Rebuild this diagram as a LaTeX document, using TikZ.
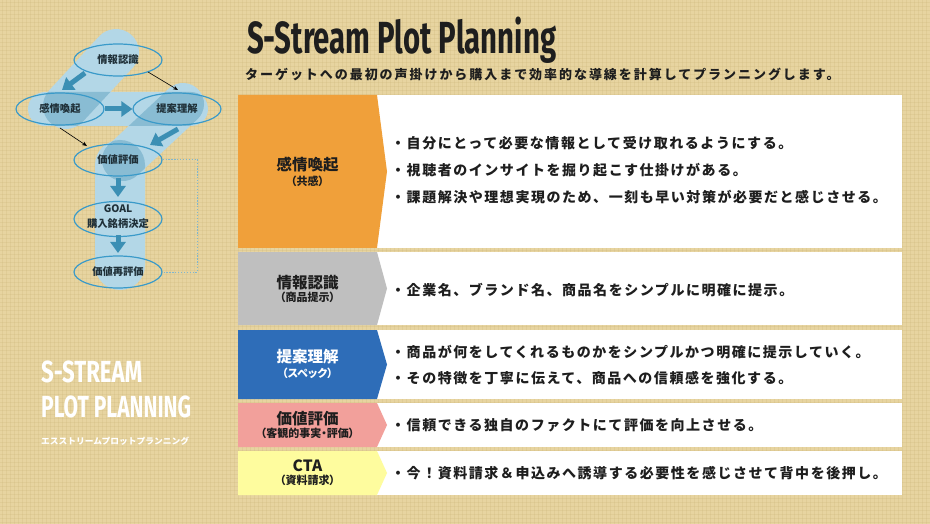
\documentclass[tikz,border=0pt]{standalone}
\usepackage{fontspec}
\usepackage{graphicx}
\usetikzlibrary{arrows.meta,calc,shapes.geometric}
\setmainfont{Noto Sans CJK JP}
\newfontfamily\jp{Noto Sans CJK JP}
\newfontfamily\jpbody{Noto Sans CJK JP}[LetterSpace=11]
\newfontfamily\jpsub{Noto Sans CJK JP}[LetterSpace=15]
\newfontfamily\jppalt{Noto Sans CJK JP}[RawFeature=+palt]
\newfontfamily\cond{Fira Sans}
\definecolor{bg}{HTML}{E7D4A0}
\definecolor{bgline}{HTML}{C9B173}
\definecolor{bandL}{HTML}{B3D7E7}
\definecolor{bandD}{HTML}{89BCD3}
\definecolor{ellc}{HTML}{3A9AC9}
\definecolor{arrc}{HTML}{3B8FB4}
\definecolor{dotc}{HTML}{7FB6CE}
\definecolor{txt}{HTML}{1E1E1E}
\definecolor{dtxt}{HTML}{1F3038}
\definecolor{corange}{HTML}{F0A03A}
\definecolor{cgray}{HTML}{BFBFBF}
\definecolor{cblue}{HTML}{2E6DB8}
\definecolor{cpink}{HTML}{F2A09B}
\definecolor{cyellow}{HTML}{FEFC9E}
\newcommand\bandA[1]{\path[#1,shift={(91,79)},rotate=47.2,rounded corners=23pt] (-59.8,-23) rectangle (59.8,23);}
\newcommand\bandB[1]{\path[#1,shift={(118,109)},rounded corners=17pt] (-90,-17) rectangle (90,17);}
\newcommand\bandC[1]{\path[#1,shift={(153,132)},rotate=43,rounded corners=21pt] (-62.05,-21) rectangle (62.05,21);}
\newcommand\bandD[1]{\path[#1,shift={(120,215)},rotate=90,rounded corners=25pt] (-75,-25) rectangle (75,25);}
\newcommand\chev[3]{%
  \fill[white] (377,#1) rectangle (902,#2);
  \fill[#3] (238,#1) -- (377,#1) -- (387,{(#1+#2)/2}) -- (377,#2) -- (238,#2) -- cycle;}
\begin{document}
\begin{tikzpicture}[x=1pt,y=-1pt,
  lab/.style={inner sep=0, text=txt, font=\jp\bfseries\fontsize{15.5}{17}\selectfont},
  sublab/.style={inner sep=0, text=txt, font=\jppalt\bfseries\fontsize{11}{13}\selectfont},
  body/.style={anchor=west, inner sep=0, text=txt, font=\jpbody\bfseries\fontsize{14}{16}\selectfont},
  ell/.style={ellipse, draw=ellc, line width=1.2pt, minimum width=88pt, minimum height=32pt, inner sep=0, text=dtxt, font=\jp\bfseries\fontsize{10.3}{12}\selectfont},
  fatarrow/.style={draw=arrc, line width=5pt, -{Triangle[width=15pt,length=11pt]}},
  thinarrow/.style={draw=black, line width=0.6pt, -{Stealth[length=5pt,width=4pt]}},
  dotline/.style={draw=dotc, line width=1pt, dash pattern=on 1.3pt off 1.6pt}]
\fill[bg] (0,0) rectangle (930,524);
\useasboundingbox (0,0) rectangle (930,524);
\foreach \i in {2,6,...,930} \draw[bgline, line width=0.5pt, opacity=0.22] (\i,0) -- (\i,524);
\foreach \j in {2,6,...,524} \draw[bgline, line width=0.5pt, opacity=0.22] (0,\j) -- (930,\j);

% ---- left diagram bands ----
\bandA{fill=bandL}
\bandB{fill=bandL}
\bandC{fill=bandL}
\bandD{fill=bandL}
\begin{scope}\bandA{clip}\bandB{fill=bandD}\end{scope}
\begin{scope}\bandB{clip}\bandC{fill=bandD}\end{scope}
\begin{scope}\bandC{clip}\bandD{fill=bandD}\end{scope}

% ---- ellipses ----
\node[ell] (n1) at (118,60) {情報認識};
\node[ell] (n2) at (60,109) {感情喚起};
\node[ell] (n3) at (177,109) {提案理解};
\node[ell] (n4) at (118,160) {価値評価};
\node[ell, minimum height=35pt] (n5) at (118,219) {};
\node[inner sep=0, align=center, text=dtxt, font=\jp\bfseries\fontsize{10.3}{15}\selectfont] (n5t) at (118,216.5) {GOAL\\購入銘柄決定};
\node[ell] (n6) at (118,272) {価値再評価};

% ---- arrows ----
\draw[fatarrow] ($(n1.center)+(-33,13)$) -- ($(n2.center)+(2,-19)$);
\draw[fatarrow] (n2.east) -- (n3.west);
\draw[fatarrow] ($(n3.center)+(1,20)$) -- ($(n4.center)+(32,-15)$);
\draw[fatarrow] ($(n4.center)+(0,18)$) -- ($(n5.center)+(0,-22)$);
\draw[fatarrow] ($(n5.center)+(0,16)$) -- ($(n6.center)+(0,-19)$);
\draw[thinarrow] ($(n1.center)+(30,12)$) -- ($(n3.center)+(1,-19)$);
\draw[thinarrow] ($(n2.center)+(0,19)$) -- ($(n4.center)+(-31,-14)$);
\draw[dotline] (n4.east) -- ++(35,0) |- (n6.east);

% ---- left title ----
\node[anchor=base west, inner sep=0, text=white] (lt1) at (41,382) {\resizebox{101pt}{\height}{\cond\bfseries\fontsize{30.5}{32}\selectfont S-STREAM}};
\node[anchor=base west, inner sep=0, text=white] (lt2) at (41,417) {\resizebox{150pt}{\height}{\cond\bfseries\fontsize{30.5}{32}\selectfont PLOT PLANNING}};
\node[anchor=west, inner sep=0, text=white] (lt3) at (41,441) {\resizebox{148pt}{\height}{\jp\bfseries\fontsize{8.5}{10}\selectfont エスストリームプロットプランニング}};

% ---- header ----
\node[anchor=base west, inner sep=0, text=txt] (title) at (247,54) {\resizebox{309pt}{\height}{\cond\bfseries\fontsize{45}{50}\selectfont S-Stream Plot Planning}};
\node[anchor=west, inner sep=0, text=txt, font=\jpsub\bfseries\fontsize{13}{15}\selectfont] (sub) at (245,74.5) {ターゲットへの最初の声掛けから購入まで効率的な導線を計算してプランニングします。};

% ---- rows ----
\chev{95}{248}{corange}
\chev{252}{325}{cgray}
\chev{330}{399}{cblue}
\chev{403}{447}{cpink}
\chev{451}{495}{cyellow}

\node[lab] (l1) at (307.5,165) {感情喚起};
\node[sublab] (s1) at (307.5,181) {（共感）};
\node[lab] (l2) at (307.5,283) {情報認識};
\node[sublab] (s2) at (307.5,297) {（商品提示）};
\node[lab, text=white] (l3) at (307.5,357) {提案理解};
\node[sublab, text=white] (s3) at (307.5,373) {（スペック）};
\node[lab] (l4) at (307.5,419) {価値評価};
\node[sublab] (s4) at (307.5,433) {（客観的事実・評価）};
\node[lab] (l5) at (307.5,466) {CTA};
\node[sublab] (s5) at (307.5,480) {（資料請求）};

\node[body] (b11) at (391,143) {・自分にとって必要な情報として受け取れるようにする。};
\node[body] (b12) at (391,170) {・視聴者のインサイトを掘り起こす仕掛けがある。};
\node[body] (b13) at (391,197) {・課題解決や理想実現のため、一刻も早い対策が必要だと感じさせる。};
\node[body] (b21) at (391,290) {・企業名、ブランド名、商品名をシンプルに明確に提示。};
\node[body] (b31) at (391,352) {・商品が何をしてくれるものかをシンプルかつ明確に提示していく。};
\node[body] (b32) at (391,378) {・その特徴を丁寧に伝えて、商品への信頼感を強化する。};
\node[body] (b41) at (391,425) {・信頼できる独自のファクトにて評価を向上させる。};
\node[body] (b51) at (391,473) {・今！資料請求＆申込みへ誘導する必要性を感じさせて背中を後押し。};
\end{tikzpicture}
\end{document}
